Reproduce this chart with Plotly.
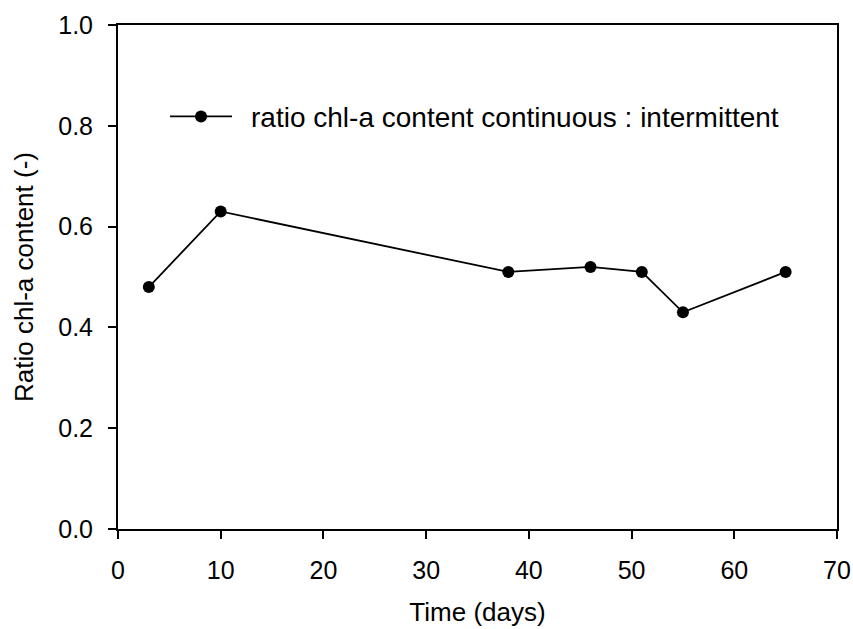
import plotly.graph_objects as go

days = [3, 10, 38, 46, 51, 55, 65]
ratio = [0.48, 0.63, 0.51, 0.52, 0.51, 0.43, 0.51]
series_name = "ratio chl-a content continuous : intermittent"

fig = go.Figure()
fig.add_trace(go.Scatter(
    x=days, y=ratio, mode="lines+markers", name="\u2002" + series_name,
    line=dict(color="black", width=1.8),
    marker=dict(color="black", size=12),
    showlegend=True,
))

fam = "Liberation Sans, Arial, sans-serif"
tick_font = dict(family=fam, size=25, color="black")
title_font = dict(family=fam, size=26, color="black")

fig.update_layout(
    width=853, height=629,
    margin=dict(l=118, r=16, t=25, b=100, autoexpand=False),
    paper_bgcolor="white", plot_bgcolor="white",
    font=tick_font,
    showlegend=True,
    legend=dict(x=0.0654, y=0.818, xanchor="left", yanchor="middle",
                itemwidth=62,
                bgcolor="rgba(0,0,0,0)", font=dict(family=fam, size=28, color="black")),
    xaxis=dict(range=[0, 70], tickvals=[0, 10, 20, 30, 40, 50, 60, 70],
               ticks="outside", ticklen=8, tickwidth=2, tickcolor="black",
               tickfont=tick_font, automargin=False, ticklabelstandoff=10,
               showline=True, linecolor="black", linewidth=2, mirror=True,
               showgrid=False, zeroline=False,
               title=dict(text="Time (days)", standoff=20, font=title_font)),
    yaxis=dict(range=[0, 1.0], tickvals=[0, 0.2, 0.4, 0.6, 0.8, 1.0],
               tickformat=".1f", tickfont=tick_font, automargin=False,
               ticklabelstandoff=10,
               ticks="outside", ticklen=8, tickwidth=2, tickcolor="black",
               showline=True, linecolor="black", linewidth=2, mirror=True,
               showgrid=False, zeroline=False,
               title=dict(text="Ratio chl-a content (-)", standoff=17, font=title_font)),
)
fig.write_html("out.html")
